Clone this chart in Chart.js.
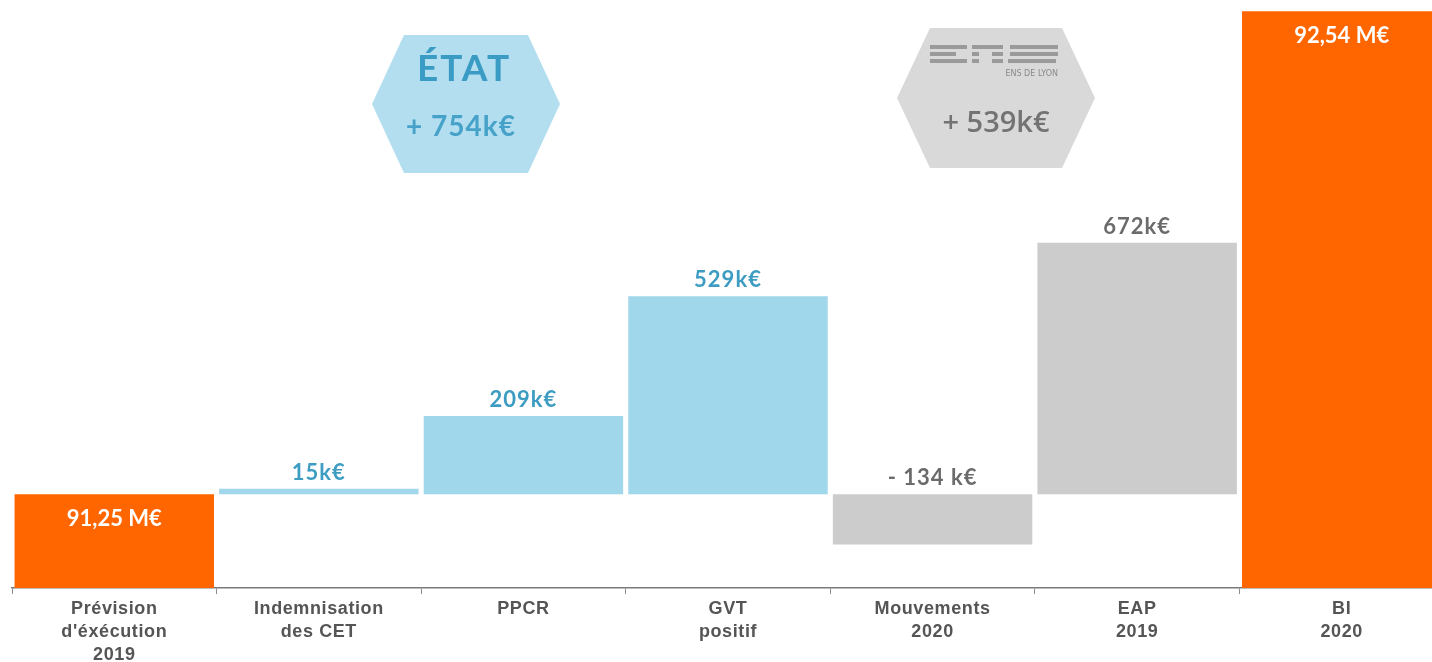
<!DOCTYPE html>
<html>
<head>
<meta charset="utf-8">
<script src="https://cdn.jsdelivr.net/npm/chart.js"></script>
<style>
  html, body { margin: 0; padding: 0; background: #fff; overflow: hidden; }
  #wrap { width: 1446px; height: 662px; }
</style>
</head>
<body>
<div id="wrap"><canvas id="myChart" width="1446" height="662"></canvas></div>
<script>
// data (k€)
const categories = [
  ['Prévision', "d'éxécution", '2019'],
  ['Indemnisation', 'des CET'],
  ['PPCR'],
  ['GVT', 'positif'],
  ['Mouvements', '2020'],
  ['EAP', '2019'],
  ['BI', '2020']
];
const startTotal = 91250;
const endTotal = 92540;
const deltas = [15, 209, 529, -134, 672];
const deltaLabels = ['15k€', '209k€', '529k€', '- 134 k€', '672k€'];
const totalLabels = ['91,25 M€', '92,54 M€'];
const deltaGroups = ['etat', 'etat', 'etat', 'ens', 'ens'];
const axisFloor = 91000;
const axisTop = 92570;

const colors = { total: '#ff6600', etat: '#a1d7eb', ens: '#cccccc' };
const labelColors = { etat: '#3d9cc2', ens: '#6b6b6b' };

// floating bars: totals from axis floor, deltas from the start total
const barData = [[axisFloor, startTotal]]
  .concat(deltas.map(d => [startTotal, startTotal + d]))
  .concat([[axisFloor, endTotal]]);
const barColors = [colors.total]
  .concat(deltaGroups.map(g => colors[g]))
  .concat([colors.total]);

// wider tick text like the slide
const tickSpacing = {
  id: 'tickSpacing',
  beforeDraw(chart) { chart.ctx.letterSpacing = '0.6px'; },
  beforeDatasetsDraw(chart) { chart.ctx.letterSpacing = '0px'; }
};

const barLabels = {
  id: 'barLabels',
  afterDatasetsDraw(chart) {
    const { ctx } = chart;
    const bars = chart.getDatasetMeta(0).data;
    ctx.save();
    ctx.textAlign = 'center';
    ctx.textBaseline = 'middle';
    ctx.font = 'bold 22px Lato';
    bars.forEach((bar, i) => {
      const top = Math.min(bar.y, bar.base);
      if (i === 0 || i === bars.length - 1) {
        ctx.letterSpacing = '0px';
        ctx.fillStyle = '#ffffff';
        const txt = i === 0 ? totalLabels[0] : totalLabels[1];
        ctx.fillText(txt, bar.x, top + 25);
      } else {
        ctx.letterSpacing = '1px';
        const g = deltaGroups[i - 1];
        ctx.fillStyle = labelColors[g];
        ctx.fillText(deltaLabels[i - 1], bar.x, top - 16);
      }
    });
    ctx.restore();
  }
};

function hexPath(ctx, cx, cy, halfW, halfH, inset) {
  ctx.beginPath();
  ctx.moveTo(cx - halfW, cy);
  ctx.lineTo(cx - halfW + inset, cy - halfH);
  ctx.lineTo(cx + halfW - inset, cy - halfH);
  ctx.lineTo(cx + halfW, cy);
  ctx.lineTo(cx + halfW - inset, cy + halfH);
  ctx.lineTo(cx - halfW + inset, cy + halfH);
  ctx.closePath();
}

const badges = {
  id: 'badges',
  afterDraw(chart) {
    const { ctx } = chart;
    ctx.save();
    // ÉTAT hexagon
    hexPath(ctx, 466, 104, 94, 69, 32);
    ctx.fillStyle = '#b3def0';
    ctx.fill();
    ctx.textAlign = 'center';
    ctx.textBaseline = 'middle';
    ctx.fillStyle = '#3a9cc4';
    ctx.font = 'bold 37px Lato';
    ctx.letterSpacing = '2px';
    ctx.fillText('ÉTAT', 464, 69);
    ctx.font = 'bold 28px Lato';
    ctx.letterSpacing = '1px';
    ctx.fillStyle = '#46a2c8';
    ctx.fillText('+ 754k€', 461, 127);

    // ENS hexagon
    hexPath(ctx, 996, 98, 99, 70, 33);
    ctx.fillStyle = '#d9d9d9';
    ctx.fill();
    // ENS logo stripes
    ctx.fillStyle = '#9a9a9a';
    const rows = [
      [[930, 967], [972, 1003], [1010, 1058]],
      [[930, 956], [972, 979], [992, 1003], [1010, 1058]],
      [[930, 967], [972, 979], [992, 1003], [1008, 1056]]
    ];
    rows.forEach((segs, r) => {
      segs.forEach(s => ctx.fillRect(s[0], 45 + r * 7, s[1] - s[0], 4));
    });
    ctx.letterSpacing = '0px';
    ctx.fillStyle = '#8a8a8a';
    ctx.font = '8px "DejaVu Sans"';
    ctx.textAlign = 'right';
    ctx.fillText('ENS DE LYON', 1058, 74);
    ctx.textAlign = 'center';
    ctx.fillStyle = '#737373';
    ctx.font = '600 29px "Open Sans"';
    ctx.fillText('+ 539k€', 996, 124);
    ctx.restore();
  }
};

const config = {
  type: 'bar',
  data: {
    labels: categories,
    datasets: [{
      data: barData,
      backgroundColor: barColors,
      borderWidth: 0,
      barPercentage: 0.975,
      categoryPercentage: 1.0
    }]
  },
  options: {
    responsive: false,
    animation: false,
    layout: { padding: { left: 12, right: 2, top: 0, bottom: 0 } },
    plugins: {
      legend: { display: false },
      tooltip: { enabled: false }
    },
    scales: {
      x: {
        afterFit(scale) { scale.height = 74; },
        grid: {
          drawOnChartArea: false,
          drawTicks: true,
          tickLength: 6,
          color: '#8c8c8c',
          offset: true
        },
        border: { color: '#7a7a7a', width: 1.5 },
        ticks: {
          color: '#555555',
          font: { family: '"Liberation Sans", Arial', size: 18, weight: 'bold', lineHeight: 1.27 },
          padding: 4,
          maxRotation: 0,
          autoSkip: false
        }
      },
      y: {
        display: false,
        min: axisFloor,
        max: axisTop
      }
    }
  },
  plugins: [tickSpacing, barLabels, badges]
};

const myChart = new Chart(document.getElementById('myChart'), config);
</script>
</body>
</html>
